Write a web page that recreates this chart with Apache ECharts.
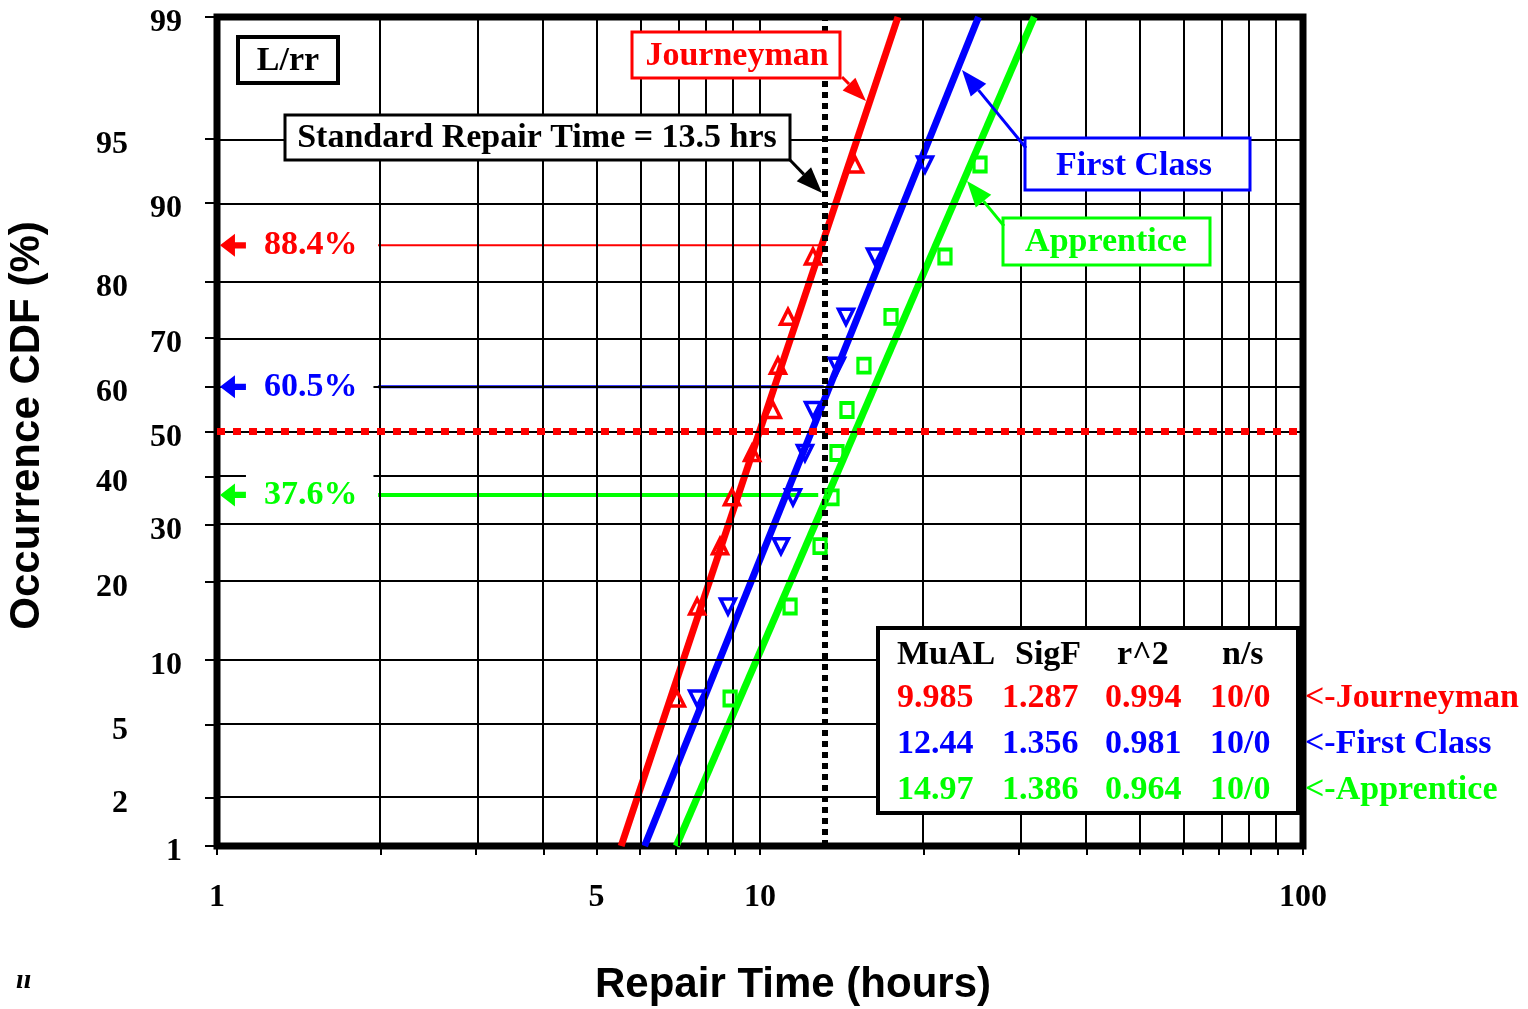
<!DOCTYPE html>
<html><head><meta charset="utf-8">
<script src="https://cdn.jsdelivr.net/npm/echarts@6/dist/echarts.min.js"></script>
<style>html,body{margin:0;padding:0;background:#fff}#c{width:1528px;height:1009px}</style>
</head><body><div id="c"></div>
<script>
// ---------------- data ----------------
const xTickLabels = [1, 5, 10, 100];
const xGridValues = [1,2,3,4,5,6,7,8,9,10,20,30,40,50,60,70,80,90,100];
const yTickLabels = [1,2,5,10,20,30,40,50,60,70,80,90,95,99];
const medianRanks = [6.7,16.3,26.0,35.6,45.2,54.8,64.4,74.0,83.7,93.3];
const journeymanHours = [7.03,7.66,8.44,8.88,9.67,10.56,10.79,11.26,12.52,14.96];
const firstClassHours = [7.66,8.73,10.93,11.50,12.10,12.52,13.86,14.40,16.28,20.13];
const apprenticeHours = [8.81,11.36,12.90,13.57,13.86,14.46,15.54,17.43,21.91,25.42];
const journeymanFit = [[5.55,1],[17.95,99]];
const firstClassFit = [[6.13,1],[25.26,99]];
const apprenticeFit = [[7.01,1],[31.99,99]];
const standardRepairTime = 13.3;
const medianLevel = 50;
const refLevels = [85.2, 59.9, 36.1];
const refLabels = ['88.4%','60.5%','37.6%'];
const refStart = [1.98, 1.98, 1.98];
const refEnd = [12.9, 13.1, 12.8];
const statsHeader = ['MuAL','SigF','r^2','n/s'];
const statsJourneyman = ['9.985','1.287','0.994','10/0'];
const statsFirstClass = ['12.44','1.356','0.981','10/0'];
const statsApprentice = ['14.97','1.386','0.964','10/0'];
const groupNames = ['Journeyman','First Class','Apprentice'];

// ---------------- scales ----------------
function probit(p){
  const a=[-3.969683028665376e+01,2.209460984245205e+02,-2.759285104469687e+02,1.383577518672690e+02,-3.066479806614716e+01,2.506628277459239e+00];
  const b=[-5.447609879822406e+01,1.615858368580409e+02,-1.556989798598866e+02,6.680131188771972e+01,-1.328068155288572e+01];
  const c=[-7.784894002430293e-03,-3.223964580411365e-01,-2.400758277161838e+00,-2.549732539343734e+00,4.374664141464968e+00,2.938163982698783e+00];
  const d=[7.784695709041462e-03,3.224671290700398e-01,2.445134137142996e+00,3.754408661907416e+00];
  const plow=0.02425, phigh=1-plow;
  let q,r;
  if(p<plow){q=Math.sqrt(-2*Math.log(p));return (((((c[0]*q+c[1])*q+c[2])*q+c[3])*q+c[4])*q+c[5])/((((d[0]*q+d[1])*q+d[2])*q+d[3])*q+1);}
  if(p<=phigh){q=p-0.5;r=q*q;return (((((a[0]*r+a[1])*r+a[2])*r+a[3])*r+a[4])*r+a[5])*q/(((((b[0]*r+b[1])*r+b[2])*r+b[3])*r+b[4])*r+1);}
  q=Math.sqrt(-2*Math.log(1-p));return -(((((c[0]*q+c[1])*q+c[2])*q+c[3])*q+c[4])*q+c[5])/((((d[0]*q+d[1])*q+d[2])*q+d[3])*q+1);
}
const X = v => Math.log10(v);
const Y = p => probit(p/100);
const yMin = Y(1), yMax = Y(99);

const RED='#ff0000', BLUE='#0000ff', GREEN='#00ff00';
const SERIF='"Liberation Serif","Times New Roman",serif';
const SANS='"Liberation Sans",Arial,sans-serif';
const leftColumn = new Set([95,80,60,40,20,5,2]);

function pts(hours){ return hours.map((h,i)=>[X(h), Y(medianRanks[i])]); }
function fit(arr){ return arr.map(d=>[X(d[0]), Y(d[1])]); }

const chart = echarts.init(document.getElementById('c'));

function arrow(x1,y1,x2,y2,color,len,w,lw){
  const ang=Math.atan2(y2-y1,x2-x1);
  const bx=x2-len*Math.cos(ang), by=y2-len*Math.sin(ang);
  const px=-Math.sin(ang)*w/2, py=Math.cos(ang)*w/2;
  return [
    {type:'line',z:100,shape:{x1:x1,y1:y1,x2:bx,y2:by},style:{stroke:color,lineWidth:lw}},
    {type:'polygon',z:100,shape:{points:[[x2,y2],[bx+px,by+py],[bx-px,by-py]]},style:{fill:color}}
  ];
}
function box(x,y,w,h,color,lw,text,tx,ty){
  const els=[{type:'rect',z:100,shape:{x:x,y:y,width:w,height:h},style:{fill:'#fff',stroke:color,lineWidth:lw}}];
  if(text) els.push({type:'text',z:101,style:{text:text,x:tx,y:ty,fill:color,font:'bold 34px '+SERIF,textAlign:'center',textVerticalAlign:'middle',verticalAlign:'middle'}});
  return els;
}
function txt(t,x,y,color,align){
  return {type:'text',z:102,style:{text:t,x:x,y:y,fill:color,font:'bold 34px '+SERIF,textAlign:align||'left',textVerticalAlign:'middle',verticalAlign:'middle'}};
}

const statCols=[897,1002,1105,1210];
const headCols=[897,1015,1117,1222];
const rows=[[statsJourneyman,RED,698],[statsFirstClass,BLUE,744],[statsApprentice,GREEN,790]];
let graphics=[];
graphics=graphics.concat(box(238,37,100,46,'#000',4,'L/rr',288,61));
graphics=graphics.concat(box(632,32,208,46,RED,3,groupNames[0],737,56));
graphics=graphics.concat(box(285,115,505,45,'#000',3,'Standard Repair Time = 13.5 hrs',537,138));
graphics=graphics.concat(box(1025,138,225,52,BLUE,3,groupNames[1],1134,166));
graphics=graphics.concat(box(1003,218,207,47,GREEN,3,groupNames[2],1106,242));
graphics=graphics.concat(arrow(842,77,866,101,RED,24,18,3));
graphics=graphics.concat(arrow(790,160,822,193,'#000',26,20,3));
graphics=graphics.concat(arrow(1026,148,962,70,BLUE,26,20,3));
graphics=graphics.concat(arrow(1004,226,967,181,GREEN,26,20,3));
graphics=graphics.concat(box(878,628,420,185,'#000',4,null));
statsHeader.forEach((h,i)=>graphics.push(txt(h,headCols[i],655,'#000')));
rows.forEach(r=>{ r[0].forEach((v,i)=>graphics.push(txt(v,statCols[i],r[2],r[1]))); });
groupNames.forEach((n,i)=>graphics.push(txt('<-'+n,1305,rows[i][2],rows[i][1])));
graphics.push({type:'text',z:102,style:{text:'ıı',x:16,y:981,fill:'#000',font:'italic bold 28px '+SERIF,textVerticalAlign:'middle',verticalAlign:'middle'}});

const xAxisBase={type:'value',min:0,max:2,position:'bottom',axisLine:{show:false},splitLine:{show:false}};
const option={
  animation:false,
  backgroundColor:'#fff',
  grid:{left:217,right:225,top:17,bottom:163,show:true,borderColor:'#000',borderWidth:7,backgroundColor:'#fff',
    containLabel:false,outerBoundsMode:'none'},
  xAxis:[
    Object.assign({},xAxisBase,{
      axisTick:{show:true,customValues:xTickLabels.map(X),length:17,lineStyle:{color:'#000',width:2}},
      axisLabel:{show:true,customValues:xTickLabels.map(X),formatter:v=>String(Math.round(Math.pow(10,v))),margin:36,
        color:'#000',fontFamily:SERIF,fontWeight:'bold',fontSize:32},
      name:'Repair Time (hours)',nameLocation:'middle',nameGap:118,
      nameTextStyle:{color:'#000',fontFamily:SANS,fontWeight:'bold',fontSize:42,padding:[0,0,0,66]}
    }),
    Object.assign({},xAxisBase,{
      axisTick:{show:true,customValues:xGridValues.map(X),length:9,lineStyle:{color:'#000',width:2}},
      axisLabel:{show:false}
    })
  ],
  yAxis:{type:'value',min:yMin,max:yMax,axisLine:{show:false},splitLine:{show:false},
    axisTick:{show:true,customValues:yTickLabels.map(Y),length:12,lineStyle:{color:'#000',width:2}},
    axisLabel:{show:true,customValues:yTickLabels.map(Y),margin:35,
      formatter:v=>{let best=yTickLabels[0],bd=1e9;yTickLabels.forEach(p=>{const dd=Math.abs(Y(p)-v);if(dd<bd){bd=dd;best=p;}});
        return (leftColumn.has(best)?'{b|':'{a|')+best+'}';},
      rich:{a:{color:'#000',fontFamily:SERIF,fontWeight:'bold',fontSize:32,padding:[12,0,0,0]},
            b:{color:'#000',fontFamily:SERIF,fontWeight:'bold',fontSize:32,padding:[12,54,0,0]}}},
    name:'Occurrence CDF (%)',nameLocation:'middle',nameGap:169,nameRotate:90,
    nameTextStyle:{color:'#000',fontFamily:SANS,fontWeight:'bold',fontSize:42,padding:[0,0,0,12]}
  },
  graphic:graphics,
  series:[
    {type:'line',name:'grid',z:1,data:[],silent:true,
      markLine:{silent:true,symbol:['none','none'],label:{show:false},animation:false,
        lineStyle:{color:'#000',width:2,type:'solid'},
        emphasis:{disabled:true},
        data:xGridValues.map(v=>({xAxis:X(v)})).concat(yTickLabels.map(p=>({yAxis:Y(p)})))}},
    {type:'line',name:'median',z:2,data:[],silent:true,
      markLine:{silent:true,symbol:['none','none'],label:{show:false},emphasis:{disabled:true},
        lineStyle:{color:RED,width:7,type:[8,8],cap:'butt'},data:[{yAxis:Y(medianLevel)}]}},
    {type:'line',name:'refJ',z:3,symbol:'none',silent:true,lineStyle:{color:RED,width:2},
      data:[[X(refStart[0]),Y(refLevels[0])],[X(refEnd[0]),Y(refLevels[0])]]},
    {type:'line',name:'refF',z:3,symbol:'none',silent:true,lineStyle:{color:BLUE,width:3},
      data:[[X(refStart[1]),Y(refLevels[1])],[X(refEnd[1]),Y(refLevels[1])]]},
    {type:'line',name:'refA',z:3,symbol:'none',silent:true,lineStyle:{color:GREEN,width:4},
      data:[[X(refStart[2]),Y(refLevels[2])],[X(refEnd[2]),Y(refLevels[2])]]},
    {type:'line',name:'Journeyman fit',z:4,symbol:'none',silent:true,lineStyle:{color:RED,width:7},data:fit(journeymanFit)},
    {type:'line',name:'First Class fit',z:4,symbol:'none',silent:true,lineStyle:{color:BLUE,width:7},data:fit(firstClassFit)},
    {type:'line',name:'Apprentice fit',z:4,symbol:'none',silent:true,lineStyle:{color:GREEN,width:7},data:fit(apprenticeFit)},
    {type:'scatter',name:'Journeyman',z:5,symbol:'triangle',symbolSize:15,emphasis:{disabled:true},
      itemStyle:{color:'rgba(0,0,0,0)',borderColor:RED,borderWidth:3.5,opacity:1},data:pts(journeymanHours)},
    {type:'scatter',name:'First Class',z:5,symbol:'triangle',symbolRotate:180,symbolSize:15,emphasis:{disabled:true},
      itemStyle:{color:'rgba(0,0,0,0)',borderColor:BLUE,borderWidth:3.5,opacity:1},data:pts(firstClassHours)},
    {type:'scatter',name:'Apprentice',z:5,symbol:'rect',symbolSize:[12,14],emphasis:{disabled:true},
      itemStyle:{color:'rgba(0,0,0,0)',borderColor:GREEN,borderWidth:3.5,opacity:1},data:pts(apprenticeHours)},
    {type:'line',name:'standard',z:6,data:[],silent:true,
      markLine:{silent:true,symbol:['none','none'],label:{show:false},emphasis:{disabled:true},
        lineStyle:{color:'#000',width:6,type:[6,5],cap:'butt'},data:[{xAxis:X(standardRepairTime)}]}},
    {type:'scatter',name:'refArrows',z:7,silent:true,emphasis:{disabled:true},
      symbol:'path://M0,11L15,0L15,8L26,8L26,14L15,14L15,22Z',symbolSize:[26,23],
      data:refLevels.map((l,i)=>({value:[X(1.07),Y(l)],itemStyle:{color:[RED,BLUE,GREEN][i],opacity:1},
        label:{show:true,position:'right',distance:0,formatter:refLabels[i],color:[RED,BLUE,GREEN][i],
          fontFamily:SERIF,fontWeight:'bold',fontSize:34,backgroundColor:'#fff',padding:[3,16,3,18]}}))}
  ]
};
chart.setOption(option);
</script>
</body></html>
